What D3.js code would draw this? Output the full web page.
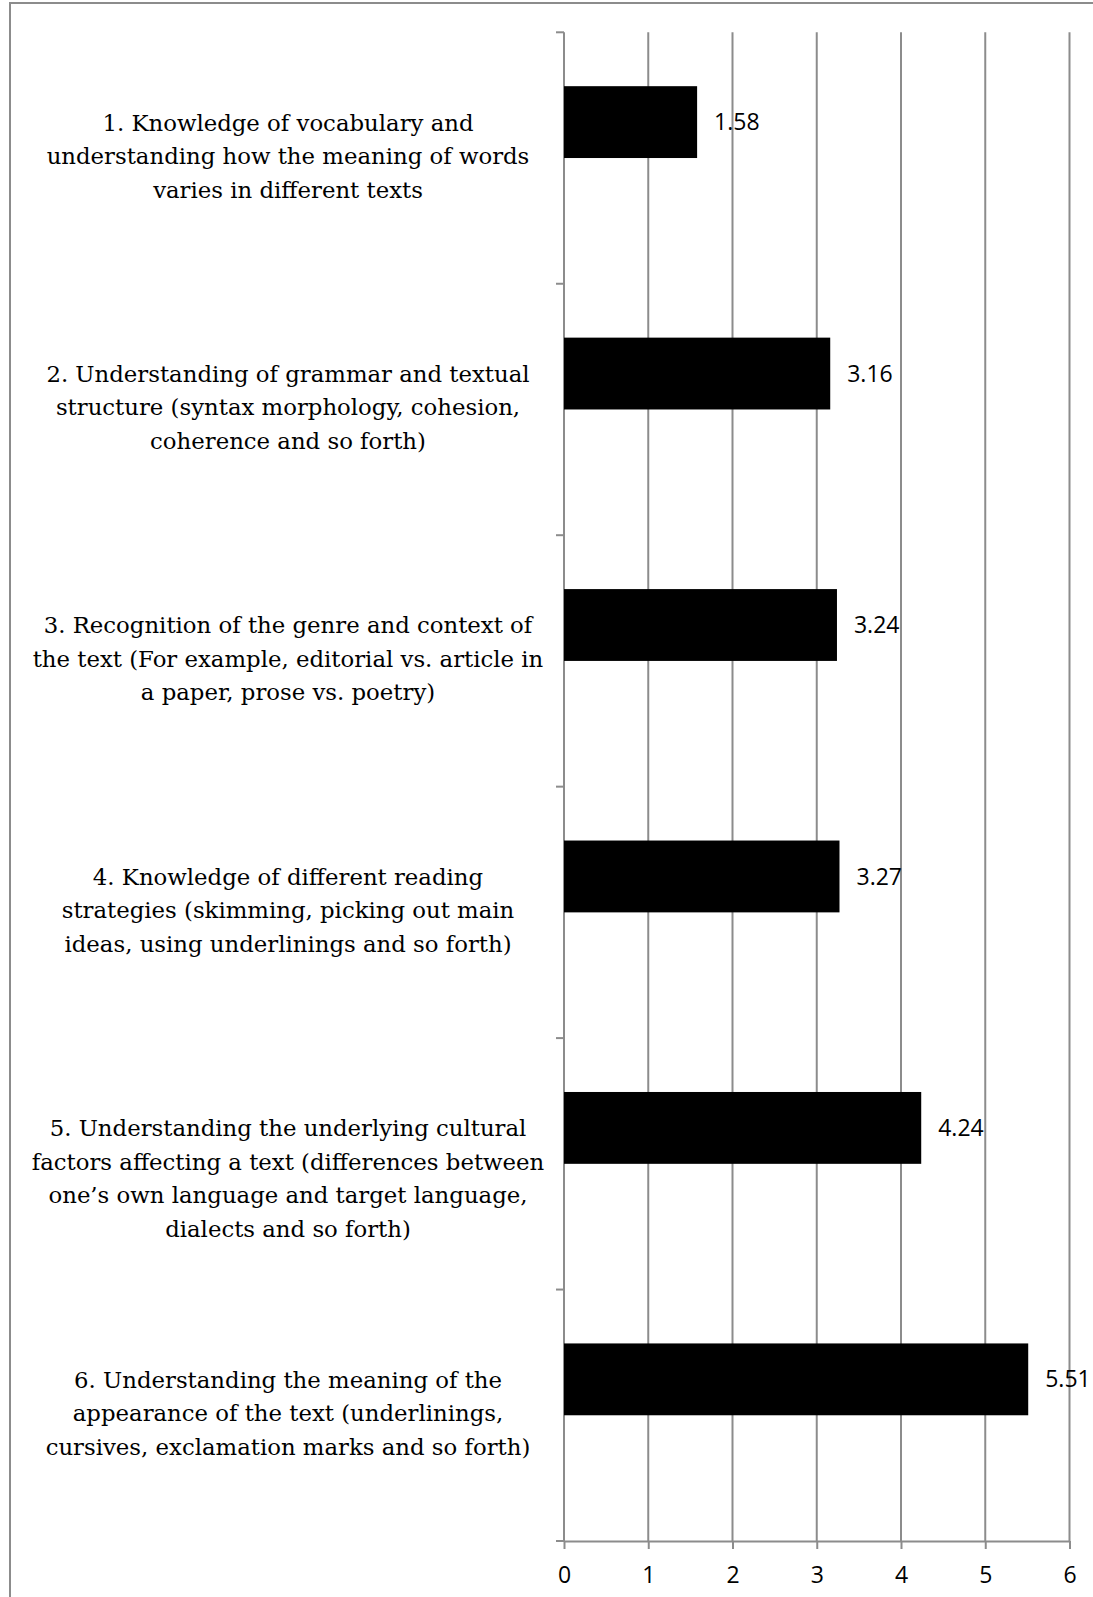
<!DOCTYPE html>
<html>
<head>
<meta charset="utf-8">
<script src="https://cdn.jsdelivr.net/npm/d3@7"></script>
<style>
  html, body { margin: 0; padding: 0; background: #fff; }
  svg { display: block; }
</style>
</head>
<body>
<svg id="chart" width="1093" height="1597"></svg>
<script>
// Mean ranking of reading-comprehension skills (lower = more important)
const categories = [
  "1. Knowledge of vocabulary and understanding how the meaning of words varies in different texts",
  "2. Understanding of grammar and textual structure (syntax morphology, cohesion, coherence and so forth)",
  "3. Recognition of the genre and context of the text (For example, editorial vs. article in a paper, prose vs. poetry)",
  "4. Knowledge of different reading strategies (skimming, picking out main ideas, using underlinings and so forth)",
  "5. Understanding the underlying cultural factors affecting a text (differences between one’s own language and target language, dialects and so forth)",
  "6. Understanding the meaning of the appearance of the text (underlinings, cursives, exclamation marks and so forth)"
];
// Wrapped lines of each category label
const categoryLines = [
  ["1. Knowledge of vocabulary and", "understanding how the meaning of words", "varies in different texts"],
  ["2. Understanding of grammar and textual", "structure (syntax morphology, cohesion,", "coherence and so forth)"],
  ["3. Recognition of the genre and context of", "the text (For example, editorial vs. article in", "a paper, prose vs. poetry)"],
  ["4. Knowledge of different reading", "strategies (skimming, picking out main", "ideas, using underlinings and so forth)"],
  ["5. Understanding the underlying cultural", "factors affecting a text (differences between", "one’s own language and target language,", "dialects and so forth)"],
  ["6. Understanding the meaning of the", "appearance of the text (underlinings,", "cursives, exclamation marks and so forth)"]
];
const meanValues = [1.58, 3.16, 3.24, 3.27, 4.24, 5.51];
const seriesNames = ["mean", "unused"];
const xTicks = [0, 1, 2, 3, 4, 5, 6];

const svg = d3.select("#chart");
const gridColor = "#8c8c8c";

// Outer frame (only its top and left edges fall inside the page)
svg.append("rect")
  .attr("x", 10).attr("y", 3)
  .attr("width", 1120).attr("height", 1640)
  .attr("fill", "none").attr("stroke", gridColor).attr("stroke-width", 2);

// Fragment of the caption line above the frame
svg.append("text")
  .attr("x", 30).attr("y", -5)
  .attr("font-family", "DejaVu Serif").attr("font-size", 23)
  .text("g");

const plotTop = 32.3, plotBottom = 1541;
const x = d3.scaleLinear().domain([0, 6]).range([564, 1069.5]);
const y = d3.scaleBand().domain(categories).range([plotTop, plotBottom]).paddingInner(0).paddingOuter(0);
const ySeries = d3.scaleBand().domain(seriesNames).range([0, y.bandwidth()]).paddingInner(0).paddingOuter(0.75);

// Vertical gridlines
svg.append("g").selectAll("line")
  .data(xTicks.filter(d => d > 0))
  .join("line")
  .attr("x1", d => x(d)).attr("x2", d => x(d))
  .attr("y1", plotTop).attr("y2", plotBottom)
  .attr("stroke", gridColor).attr("stroke-width", 2);

// Bottom value axis
const xAxis = svg.append("g")
  .attr("transform", `translate(0,${plotBottom})`)
  .call(d3.axisBottom(x).tickValues(xTicks).tickFormat(d3.format("d"))
    .tickSize(8).tickPadding(18).tickSizeOuter(0));
xAxis.select(".domain").attr("stroke", gridColor).attr("stroke-width", 2);
xAxis.selectAll(".tick line").attr("stroke", gridColor).attr("stroke-width", 2);
xAxis.selectAll(".tick text")
  .attr("font-family", "Open Sans").attr("font-size", 23).attr("fill", "#000");

// Left category axis: ticks at band boundaries
const boundaries = categories.map(c => y(c)).concat([plotBottom]);
svg.append("line")
  .attr("x1", x(0)).attr("x2", x(0))
  .attr("y1", plotTop).attr("y2", plotBottom)
  .attr("stroke", gridColor).attr("stroke-width", 2);
svg.append("g").selectAll("line")
  .data(boundaries)
  .join("line")
  .attr("x1", x(0) - 8).attr("x2", x(0))
  .attr("y1", d => d).attr("y2", d => d)
  .attr("stroke", gridColor).attr("stroke-width", 2);

// Bars
svg.append("g").selectAll("rect")
  .data(meanValues)
  .join("rect")
  .attr("x", x(0))
  .attr("y", (d, i) => y(categories[i]) + ySeries("mean"))
  .attr("width", d => x(d) - x(0))
  .attr("height", ySeries.bandwidth())
  .attr("fill", "#000");

// Value labels
svg.append("g").selectAll("text")
  .data(meanValues)
  .join("text")
  .attr("x", d => x(d) + 17)
  .attr("y", (d, i) => y(categories[i]) + ySeries("mean") + ySeries.bandwidth() / 2)
  .attr("dy", "0.35em")
  .attr("font-family", "Open Sans").attr("font-size", 23)
  .text(d => d.toFixed(2));

// Category labels, wrapped and centred on each band
const lineHeight = 33.5;
const labelX = 288;
const labels = svg.append("g")
  .attr("font-family", "DejaVu Serif").attr("font-size", 22.8)
  .attr("text-anchor", "middle");
categoryLines.forEach((lines, i) => {
  const center = y(categories[i]) + y.bandwidth() / 2;
  const firstLine = center - lineHeight - 2;
  const t = labels.append("text");
  lines.forEach((line, j) => {
    t.append("tspan")
      .attr("x", labelX)
      .attr("y", firstLine + j * lineHeight)
      .attr("dy", "0.35em")
      .text(line);
  });
});
</script>
</body>
</html>
